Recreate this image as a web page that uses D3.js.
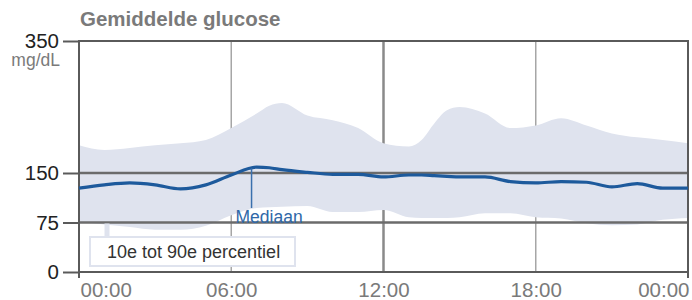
<!DOCTYPE html>
<html>
<head>
<meta charset="utf-8">
<script src="https://cdn.jsdelivr.net/npm/d3@7"></script>
<style>
  body { margin: 0; background: #fff; }
  svg { display: block; font-family: "Liberation Sans", Arial, sans-serif; }
</style>
</head>
<body>
<div id="container"></div>
<script>
/* CONSTANTS AND GLOBALS */
const width = 692,
  height = 300,
  margin = { top: 41, bottom: 28, left: 79, right: 4 };

// hours of the day (0 - 24)
const hours = [0, 1, 2, 3, 4, 5, 6, 7, 7.5, 8, 9, 10, 11, 12, 13, 13.5, 14, 14.5, 15, 16, 17, 18, 19, 20, 21, 22, 23, 24];
// 90e percentiel
const p90 = [192, 185, 188, 192, 195, 200, 218, 240, 252, 256, 237, 230, 218, 195, 190, 200, 225, 245, 250, 240, 218, 222, 233, 222, 210, 204, 200, 195];
// 10e percentiel
const p10 = [76, 72, 68, 64, 64, 70, 86, 97, 98, 99, 100, 91, 91, 94, 83, 82, 82, 82, 83, 89, 89, 83, 81, 74, 71, 72, 79, 82];
// mediaan
const median = [127, 132, 135, 132, 126, 132, 147, 159, 158, 155, 151, 148, 148, 144, 147, 147, 146, 145, 144, 144, 137, 135, 137, 136, 129, 134, 127, 127];

const yTicks = [0, 75, 150, 350];
const xTicks = [0, 6, 12, 18, 24];
const xLabels = ["00:00", "06:00", "12:00", "18:00", "00:00"];
const medianPeakHour = 6.8;

const svg = d3.select("#container")
  .append("svg")
  .attr("width", width)
  .attr("height", height);

// SCALES
const xScale = d3.scaleLinear()
  .domain([0, 24])
  .range([margin.left, width - margin.right]);

const yScale = d3.scaleLinear()
  .domain([0, 350])
  .range([height - margin.bottom, margin.top]);

const rows = hours.map((h, i) => ({ h, lo: p10[i], hi: p90[i], med: median[i] }));

// TITLE
svg.append("text")
  .attr("x", 80)
  .attr("y", 26)
  .attr("font-size", 20.5)
  .attr("font-weight", "bold")
  .attr("fill", "#7a7a7a")
  .text("Gemiddelde glucose");

// vertical grid (behind band)
svg.selectAll("line.vgrid")
  .data([6, 12, 18])
  .enter()
  .append("line")
  .attr("class", "vgrid")
  .attr("x1", d => xScale(d))
  .attr("x2", d => xScale(d))
  .attr("y1", yScale(350))
  .attr("y2", yScale(0))
  .attr("stroke", d => d === 12 ? "#8a8a8a" : "#a6a6a6")
  .attr("stroke-width", d => d === 12 ? 2.5 : 1.5);

// BAND
const area = d3.area()
  .x(d => xScale(d.h))
  .y0(d => yScale(d.lo))
  .y1(d => yScale(d.hi))
  .curve(d3.curveMonotoneX);

svg.append("path")
  .datum(rows)
  .attr("d", area)
  .attr("fill", "#dfe3ee");

// Y AXIS (ticks + labels + horizontal lines)
const yAxis = d3.axisLeft(yScale)
  .tickValues(yTicks)
  .tickSize(16)
  .tickPadding(4);

const yG = svg.append("g")
  .attr("transform", `translate(${margin.left},0)`)
  .call(yAxis);
yG.select(".domain").remove();
yG.selectAll(".tick line").attr("stroke", "#5a5a5a").attr("stroke-width", 2);
yG.selectAll(".tick text")
  .attr("font-size", 20.5)
  .attr("fill", "#222")
  .attr("font-family", "Liberation Sans, Arial, sans-serif");

svg.selectAll("line.hgrid")
  .data(yTicks)
  .enter()
  .append("line")
  .attr("class", "hgrid")
  .attr("x1", margin.left)
  .attr("x2", width - margin.right)
  .attr("y1", d => yScale(d))
  .attr("y2", d => yScale(d))
  .attr("stroke", d => (d === 75 || d === 150) ? "#6b6b6b" : "#5a5a5a")
  .attr("stroke-width", d => (d === 75 || d === 150) ? 2.5 : 2);

// unit
svg.append("text")
  .attr("x", 60)
  .attr("y", 66)
  .attr("text-anchor", "end")
  .attr("font-size", 17.5)
  .attr("fill", "#7a7a7a")
  .text("mg/dL");

// left + right borders
svg.selectAll("line.border")
  .data([0, 24])
  .enter()
  .append("line")
  .attr("class", "border")
  .attr("x1", d => xScale(d))
  .attr("x2", d => xScale(d))
  .attr("y1", yScale(350) - 1)
  .attr("y2", yScale(0) + 6)
  .attr("stroke", "#5a5a5a")
  .attr("stroke-width", 2);

// X AXIS labels
const xAxis = d3.axisBottom(xScale)
  .tickValues(xTicks)
  .tickSize(0)
  .tickPadding(10)
  .tickFormat((d, i) => xLabels[i]);

const xG = svg.append("g")
  .attr("transform", `translate(0,${yScale(0)})`)
  .call(xAxis);
xG.select(".domain").remove();
xG.selectAll(".tick text")
  .attr("font-size", 20.5)
  .attr("fill", "#7a7a7a")
  .attr("font-family", "Liberation Sans, Arial, sans-serif");
// first label starts at the axis, last one ends at the border
xG.selectAll(".tick text").filter((d, i) => i === 0)
  .attr("text-anchor", "start")
  .attr("dx", 1);
xG.selectAll(".tick text").filter((d, i) => i === xTicks.length - 1)
  .attr("text-anchor", "end")
  .attr("dx", 1);

// MEDIAN LINE
const line = d3.line()
  .x(d => xScale(d.h))
  .y(d => yScale(d.med))
  .curve(d3.curveMonotoneX);

svg.append("path")
  .datum(rows)
  .attr("d", line)
  .attr("fill", "none")
  .attr("stroke", "#1d5a9c")
  .attr("stroke-width", 3.2);

// Mediaan annotation
svg.append("line")
  .attr("x1", xScale(medianPeakHour))
  .attr("x2", xScale(medianPeakHour))
  .attr("y1", yScale(157))
  .attr("y2", yScale(97))
  .attr("stroke", "#3a70ad")
  .attr("stroke-width", 1.5);

svg.append("text")
  .attr("x", xScale(medianPeakHour) - 16)
  .attr("y", 223)
  .attr("font-size", 17.5)
  .attr("fill", "#2f68a8")
  .text("Mediaan");

// LEGEND
svg.append("line")
  .attr("x1", 107)
  .attr("x2", 107)
  .attr("y1", yScale(75) + 1)
  .attr("y2", 237)
  .attr("stroke", "#dfe3ee")
  .attr("stroke-width", 5);

svg.append("rect")
  .attr("x", 90)
  .attr("y", 237)
  .attr("width", 205)
  .attr("height", 29)
  .attr("fill", "#fff")
  .attr("stroke", "#dfe3ee")
  .attr("stroke-width", 2);

svg.append("text")
  .attr("x", 107)
  .attr("y", 258)
  .attr("font-size", 18)
  .attr("fill", "#333")
  .text("10e tot 90e percentiel");
</script>
</body>
</html>
